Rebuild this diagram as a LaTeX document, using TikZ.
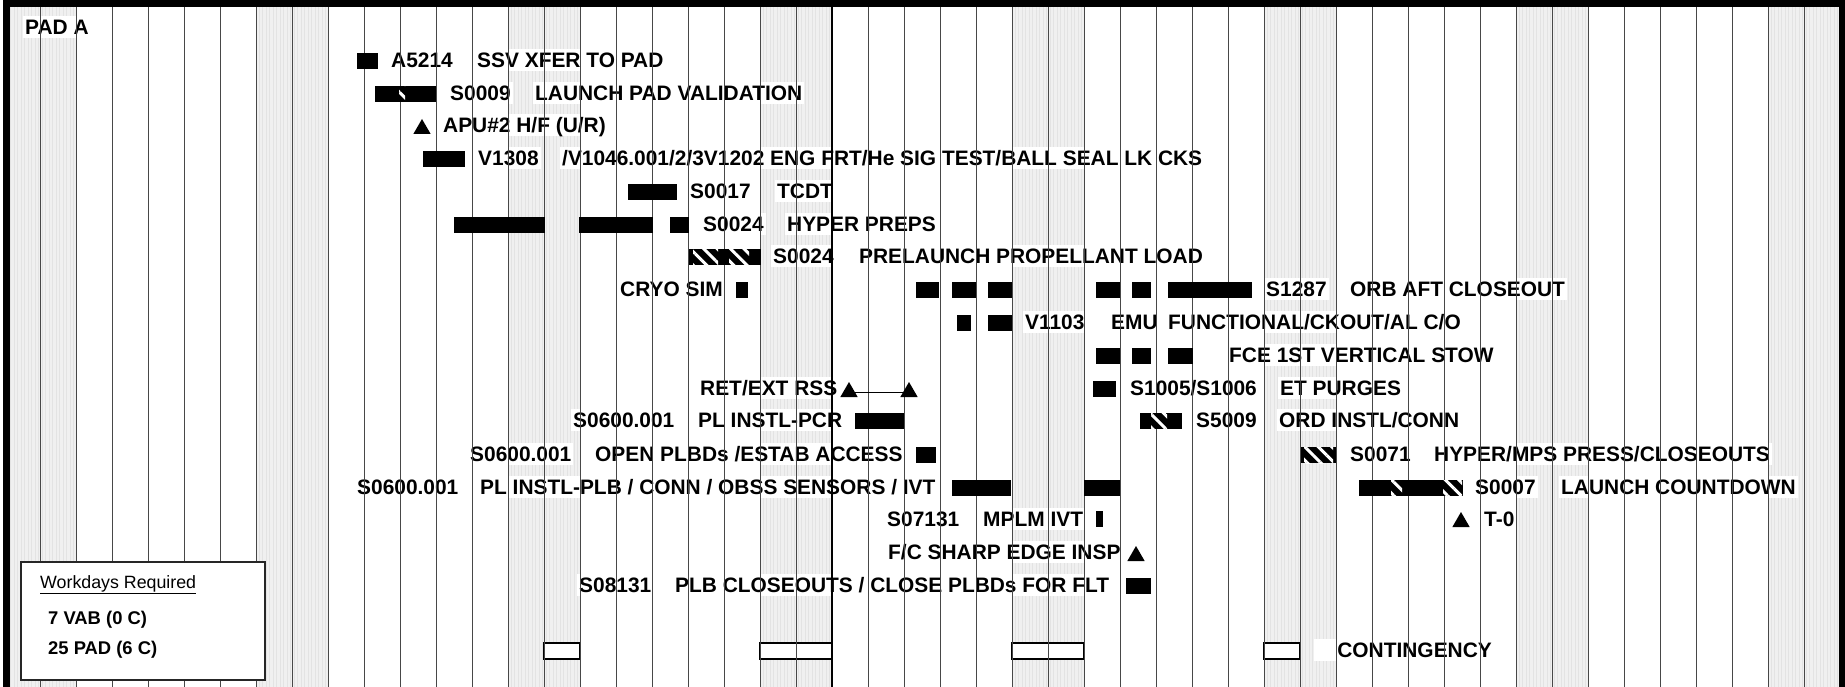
\documentclass[tikz,border=0pt]{standalone}
\usepackage{fontspec}
\setmainfont{Liberation Sans}
\usepackage{tikz}
\usepackage{xcolor}
\usetikzlibrary{shapes.geometric,patterns.meta,positioning}

\begin{document}
\begin{tikzpicture}[x=1pt, y=-1pt,
  lbl/.style={anchor=west, fill=white, inner xsep=2pt, inner ysep=1pt,
              text height=17.9pt, text depth=3pt,
              font=\fontsize{20.9}{24}\selectfont\bfseries},
  legtxt/.style={anchor=west, inner sep=0pt, text height=15.9pt, text depth=3pt,
              font=\fontsize{17.8}{21}\selectfont},
  legbold/.style={legtxt, font=\fontsize{18.4}{21}\selectfont\bfseries},
  wkend/.style={fill=black!6, postaction={pattern={Lines[angle=90,distance=3.5pt,line width=1pt]},
              pattern color=black!11}},
  gridln/.style={draw=black!72, line width=1pt},
  frame/.style={draw=black, line width=6.5pt},
  bar/.style={fill=black},
  hatch/.style={pattern={Lines[angle=-45,distance=9.5pt,line width=3pt]}, pattern color=white},
  tri/.style={regular polygon, regular polygon sides=3, fill=black, minimum size=20pt, inner sep=0pt},
  link/.style={draw=black, line width=0.9pt},
  cont/.style={fill=white, draw=black, line width=1.2pt},
  legbox/.style={draw=black!85, fill=white, line width=1.3pt, minimum width=244pt, minimum height=118pt}
]
\useasboundingbox (0,0) rectangle (1845,687);
\fill[white] (0,0) rectangle (1845,687);

% weekends
\foreach \k in {0,7,...,49}
  \fill[wkend] ({4+36*\k},6) rectangle ({76+36*\k},687);

% contingency days
\foreach \a/\b in {544/580, 760/832, 1012/1084, 1264/1300}
  \draw[cont] (\a,643) rectangle (\b,659);

% Labels
\node[lbl] (pada) at (23,27) {PAD A};
\node[lbl] (a5214) at (389,60) {A5214};
\node[lbl] (a5214t) at (475,60) {SSV XFER TO PAD};
\node[lbl] (s0009) at (448,93) {S0009};
\node[lbl] (s0009t) at (533,93) {LAUNCH PAD VALIDATION};
\node[lbl] (apu) at (441,125) {APU\#2 H/F (U/R)};
\node[lbl] (v1308) at (476,158) {V1308};
\node[lbl] (v1308t) at (560,158) {/V1046.001/2/3V1202 ENG FRT/He SIG TEST/BALL SEAL LK CKS};
\node[lbl] (s0017) at (688,191) {S0017};
\node[lbl] (s0017t) at (775,191) {TCDT};
\node[lbl] (hyp) at (701,224) {S0024};
\node[lbl] (hypt) at (785,224) {HYPER PREPS};
\node[lbl] (prl) at (771,256) {S0024};
\node[lbl] (prlt) at (857,256) {PRELAUNCH PROPELLANT LOAD};
\node[lbl] (cryo) at (618,289) {CRYO SIM};
\node[lbl] (s1287) at (1264,289) {S1287};
\node[lbl] (s1287t) at (1348,289) {ORB AFT CLOSEOUT};
\node[lbl] (v1103) at (1023,322) {V1103};
\node[lbl] (emu) at (1109,322) {EMU};
\node[lbl] (v1103t) at (1166,322) {FUNCTIONAL/CKOUT/AL C/O};
\node[lbl] (fce) at (1227,355) {FCE 1ST VERTICAL STOW};
\node[lbl] (rss) at (698,388) {RET/EXT RSS};
\node[lbl] (s1005) at (1128,388) {S1005/S1006};
\node[lbl] (s1005t) at (1278,388) {ET PURGES};
\node[lbl] (pcr) at (571,420) {S0600.001};
\node[lbl] (pcrt) at (696,420) {PL INSTL-PCR};
\node[lbl] (s5009) at (1194,420) {S5009};
\node[lbl] (s5009t) at (1277,420) {ORD INSTL/CONN};
\node[lbl] (plbd) at (468,454) {S0600.001};
\node[lbl] (plbdt) at (593,454) {OPEN PLBDs /ESTAB ACCESS};
\node[lbl] (s0071) at (1348,454) {S0071};
\node[lbl] (s0071t) at (1432,454) {HYPER/MPS PRESS/CLOSEOUTS};
\node[lbl] (plb) at (355,487) {S0600.001};
\node[lbl] (plbt) at (478,487) {PL INSTL-PLB / CONN / OBSS SENSORS / IVT};
\node[lbl] (s0007) at (1473,487) {S0007};
\node[lbl] (s0007t) at (1559,487) {LAUNCH COUNTDOWN};
\node[lbl] (mplm) at (885,519) {S07131};
\node[lbl] (mplmt) at (981,519) {MPLM IVT};
\node[lbl] (tzero) at (1482,519) {T-0};
\node[lbl] (fcs) at (886,552) {F/C SHARP EDGE INSP};
\node[lbl] (s08131) at (577,585) {S08131};
\node[lbl] (s08131t) at (673,585) {PLB CLOSEOUTS / CLOSE PLBDs FOR FLT};
\node[lbl, anchor=east, text width=176pt, align=right] (contg) at (1494,650) {CONTINGENCY};

% Day grid
\foreach \k in {1,...,50}
  \draw[gridln] ({4+36*\k},0) -- ({4+36*\k},687);
\draw[gridln, line width=2.6pt, draw=black] (832,0) -- (832,687);
\draw[frame] (6.5,687) -- (6.5,3.5) -- (1842,3.5) -- (1842,687);

% Bars: row by row
\fill[bar] (357,53) rectangle (378,69);
\fill[bar] (375,86) rectangle (436,102);
\fill[hatch] (399,86) rectangle (405,102);
\fill[bar] (423,151) rectangle (465,167);
\fill[bar] (628,184) rectangle (677,200);
\foreach \a/\b in {454/545, 579/653, 670/689}
  \fill[bar] (\a,217) rectangle (\b,233);
\fill[bar] (689,249) rectangle (761,265);
\foreach \a/\b in {693/718, 729/749}
  \fill[hatch] (\a,249) rectangle (\b,265);
\foreach \a/\b in {736/748, 916/939, 952/976, 988/1012, 1096/1120, 1132/1151, 1168/1252}
  \fill[bar] (\a,282) rectangle (\b,298);
\foreach \a/\b in {957/971, 988/1012}
  \fill[bar] (\a,315) rectangle (\b,331);
\foreach \a/\b in {1096/1120, 1132/1151, 1168/1193}
  \fill[bar] (\a,348) rectangle (\b,364);
\fill[bar] (1093,381) rectangle (1116,397);
\foreach \a/\b in {855/904, 1140/1182}
  \fill[bar] (\a,413) rectangle (\b,429);
\fill[hatch] (1151,413) rectangle (1167,429);
\foreach \a/\b in {916/936, 1301/1336}
  \fill[bar] (\a,447) rectangle (\b,463);
\fill[hatch] (1304,447) rectangle (1333,463);
\foreach \a/\b in {952/1011, 1084/1120, 1359/1463}
  \fill[bar] (\a,480) rectangle (\b,496);
\foreach \a/\b in {1391/1402, 1443/1462}
  \fill[hatch] (\a,480) rectangle (\b,496);
\fill[bar] (1096,511) rectangle (1103,527);
\fill[bar] (1126,578) rectangle (1151,594);

% Milestones
\node[tri] (apum) at (422,129) {};
\node[tri] (ret1) at (849,392) {};
\node[tri] (ret2) at (909,392) {};
\node[tri] (t0m) at (1461,522) {};
\node[tri] (fcsm) at (1136,556) {};
\draw[link] (ret1) -- (ret2);

% Legend
\node[legbox] (legend) at (143,621) {};
\node[legtxt] (wreq) at (40,582) {\underline{Workdays Required}};
\node[legbold] (vab) at (48,618) {7 VAB (0 C)};
\node[legbold] (padc) at (48,648) {25 PAD (6 C)};
\end{tikzpicture}
\end{document}
